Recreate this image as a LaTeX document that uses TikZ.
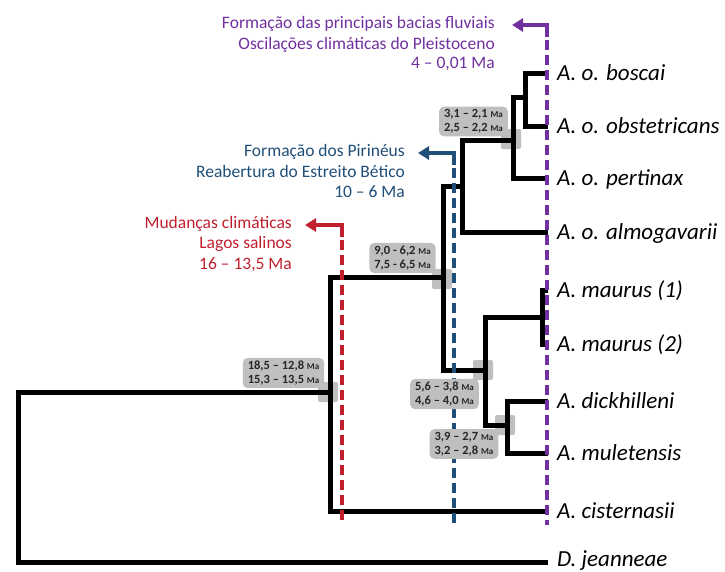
\documentclass[tikz,border=0pt]{standalone}
\usepackage{fontspec}
\setmainfont{Carlito}
\usetikzlibrary{arrows.meta}
\definecolor{evpurple}{HTML}{7030A0}
\definecolor{evblue}{HTML}{1F4E79}
\definecolor{evred}{HTML}{C0202E}
\definecolor{boxgray}{HTML}{BFBFBF}
\newcommand\myMa{{\fontsize{9}{10}\selectfont Ma}}
\begin{document}
\begin{tikzpicture}[x=1pt,y=-1pt,
  tree/.style={line width=5pt, line join=miter, black},
  taxon/.style={anchor=base west, font=\fontsize{23}{27}\selectfont\itshape, inner sep=0pt},
  evtext/.style={anchor=base east, font=\fontsize{17.5}{20.5}\selectfont, inner sep=0pt},
  agebox/.style={fill=boxgray, rounded corners=5pt, align=left, font=\fontsize{12.5}{14}\selectfont\bfseries, inner xsep=5pt, inner ysep=3pt, text=black!85},
  nodesq/.style={fill=boxgray, rounded corners=2pt, minimum size=20pt, inner sep=0pt},
  evline/.style={line width=3.5pt, dash pattern=on 10pt off 5pt},
  evarrow/.style={line width=3.5pt, line join=miter, -{Triangle[length=11pt,width=13pt]}},
]
\useasboundingbox (0,0) rectangle (725,571);

% tips
\coordinate (tBos) at (548,73);
\coordinate (tObs) at (548,126);
\coordinate (tPer) at (548,178);
\coordinate (tAlm) at (548,232);
\coordinate (tMa1) at (548,290);
\coordinate (tMa2) at (548,344);
\coordinate (tDic) at (548,401);
\coordinate (tMul) at (548,453);
\coordinate (tCis) at (548,511);
\coordinate (tJea) at (548,562);
% internal nodes
\coordinate (nA) at (525,97);
\coordinate (nB) at (513,140);
\coordinate (nC) at (462,186);
\coordinate (nD) at (443,277);
\coordinate (nE) at (485,370);
\coordinate (nF) at (542,317);
\coordinate (nG) at (507,425);
\coordinate (nH) at (330,392);
\coordinate (nR) at (18,477);

% node squares
\node[nodesq] (sq1) at (328,392) {};
\node[nodesq] (sq2) at (442,279) {};
\node[nodesq] (sq3) at (511,139) {};
\node[nodesq] (sq4) at (483,370) {};
\node[nodesq] (sq5) at (505,425) {};

% tree
\draw[tree] (tBos) -| (nA) |- (tObs);
\draw[tree] (nA) -| (nB) |- (tPer);
\draw[tree] (nB) -| (nC) |- (tAlm);
\draw[tree] (nC) -| (nD) |- (nE);
\draw[tree] (tMa1) -| (nF) |- (tMa2);
\draw[tree] (nF) -| (nE) |- (nG);
\draw[tree] (tDic) -| (nG) |- (tMul);
\draw[tree] (nD) -| (nH) |- (tCis);
\draw[tree] (nH) -| (nR) |- (tJea);

% taxa
\node[taxon] (lBos) at (557,80) {A. o. boscai};
\node[taxon] (lObs) at (557,133) {A. o. obstetricans};
\node[taxon] (lPer) at (557,185) {A. o. pertinax};
\node[taxon] (lAlm) at (557,239) {A. o. almogavarii};
\node[taxon] (lMa1) at (557,297) {A. maurus (1)};
\node[taxon] (lMa2) at (557,351) {A. maurus (2)};
\node[taxon] (lDic) at (557,408) {A. dickhilleni};
\node[taxon] (lMul) at (557,460) {A. muletensis};
\node[taxon] (lCis) at (557,518) {A. cisternasii};
\node[taxon] (lJea) at (557,566) {D. jeanneae};

% events: purple
\coordinate (pTop) at (547,25);
\coordinate (pTip) at (512,25);
\coordinate (pBot) at (547,525);
\coordinate (pSol) at (547,37);
\draw[evarrow, evpurple] (pSol) -- (pTop) -- (pTip);
\draw[evline, evpurple] (pTop) -- (pBot);
\node[evtext, text=evpurple] (p1) at (495,28.3) {Formação das principais bacias fluviais};
\node[evtext, text=evpurple] (p2) at (495,49) {Oscilações climáticas do Pleistoceno};
\node[evtext, text=evpurple] (p3) at (495,68.5) {4 -- 0,01 Ma};

% events: blue
\coordinate (bTop) at (454,153);
\coordinate (bTip) at (418,153);
\coordinate (bBot) at (454,525);
\coordinate (bSol) at (454,165);
\draw[evarrow, evblue] (bSol) -- (bTop) -- (bTip);
\draw[evline, evblue] (bTop) -- (bBot);
\node[evtext, text=evblue] (q1) at (405,156) {Formação dos Pirinéus};
\node[evtext, text=evblue] (q2) at (405,177) {Reabertura do Estreito Bético};
\node[evtext, text=evblue] (q3) at (405,197.5) {10 -- 6 Ma};

% events: red
\coordinate (rTop) at (342,225);
\coordinate (rTip) at (305,225);
\coordinate (rBot) at (342,521);
\coordinate (rSol) at (342,237);
\draw[evarrow, evred] (rSol) -- (rTop) -- (rTip);
\draw[evline, evred] (rTop) -- (rBot);
\node[evtext, text=evred] (r1) at (292,228) {Mudanças climáticas};
\node[evtext, text=evred] (r2) at (292,248.5) {Lagos salinos};
\node[evtext, text=evred] (r3) at (292,269) {16 -- 13,5 Ma};

% age boxes (on top of the dashed lines)
\node[agebox] (b1) at (283.5,373) {18,5 -- 12,8 \myMa\\15,3 -- 13,5 \myMa};
\node[agebox] (b2) at (402.5,258) {9,0 - 6,2 \myMa\\7,5 - 6,5 \myMa};
\node[agebox] (b3) at (473.5,121.5) {3,1 -- 2,1 \myMa\\2,5 -- 2,2 \myMa};
\node[agebox] (b4) at (444.5,394) {5,6 -- 3,8 \myMa\\4,6 -- 4,0 \myMa};
\node[agebox] (b5) at (464,444) {3,9 -- 2,7 \myMa\\3,2 -- 2,8 \myMa};
\end{tikzpicture}
\end{document}
